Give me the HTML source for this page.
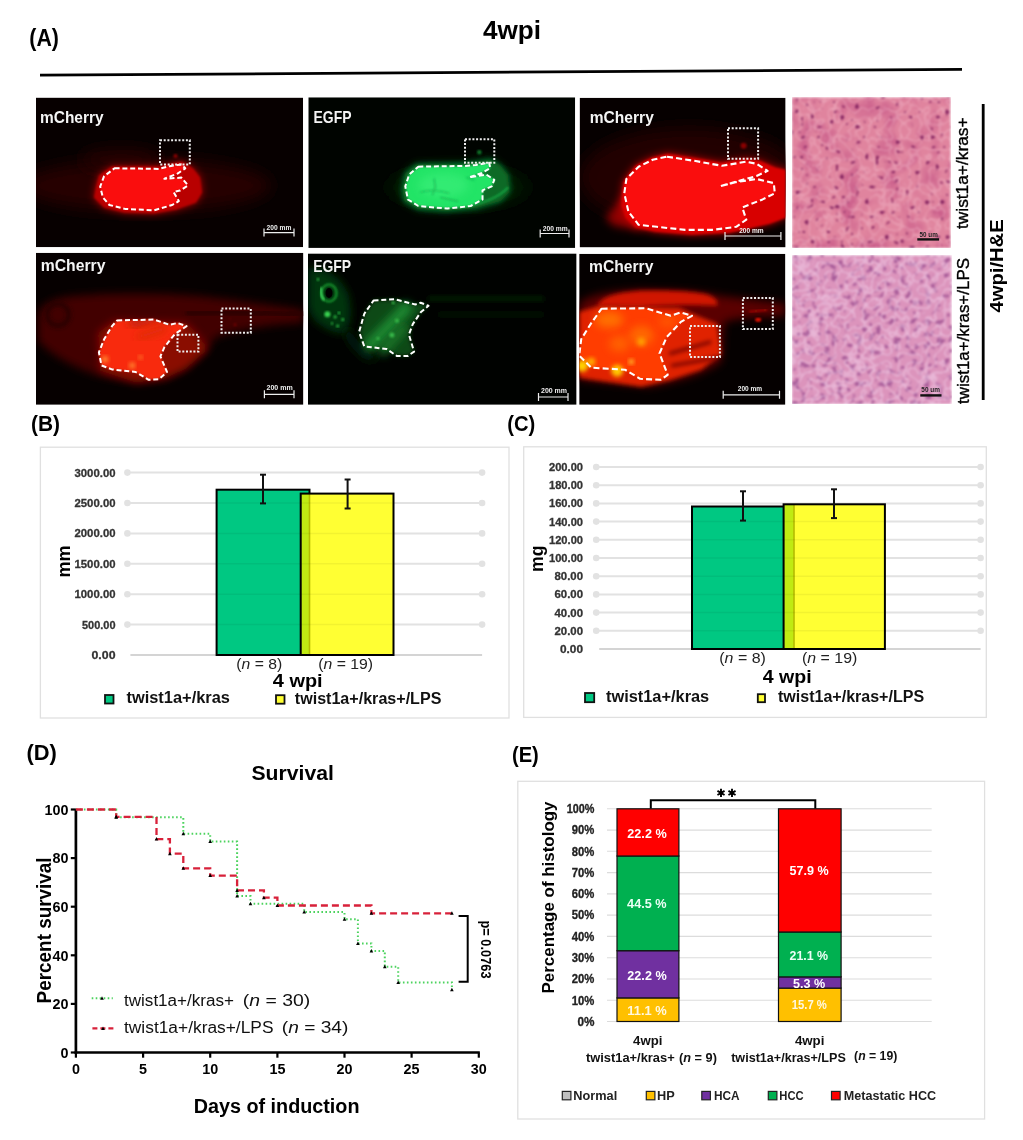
<!DOCTYPE html>
<html><head><meta charset="utf-8"><title>Figure</title>
<style>
html,body{margin:0;padding:0;background:#fff;}
svg{display:block;filter:blur(0.45px);}
text{font-family:"Liberation Sans", sans-serif;}
</style></head><body>
<svg width="1023" height="1140" viewBox="0 0 1023 1140">
<defs>
<filter id="b1" x="-20%" y="-20%" width="140%" height="140%"><feGaussianBlur stdDeviation="1"/></filter>
<filter id="b2" x="-30%" y="-30%" width="160%" height="160%"><feGaussianBlur stdDeviation="2"/></filter>
<filter id="b4" x="-50%" y="-50%" width="200%" height="200%"><feGaussianBlur stdDeviation="4"/></filter>
<filter id="b8" x="-50%" y="-50%" width="200%" height="200%"><feGaussianBlur stdDeviation="8"/></filter>
<filter id="b14" x="-50%" y="-50%" width="200%" height="200%"><feGaussianBlur stdDeviation="14"/></filter>
<filter id="he1" x="0" y="0" width="100%" height="100%" color-interpolation-filters="sRGB">
  <feTurbulence type="fractalNoise" baseFrequency="0.05" numOctaves="2" seed="9" result="m"/>
  <feColorMatrix in="m" type="matrix" values="0 0 0 0 0.8  0 0 0 0 0.38  0 0 0 0 0.55  -3 0 0 0 1.65" result="mott"/>
  <feTurbulence type="turbulence" baseFrequency="0.1" numOctaves="1" seed="2" result="t"/>
  <feColorMatrix in="t" type="matrix" values="0 0 0 0 0.96  0 0 0 0 0.74  0 0 0 0 0.8  -4 0 0 0 0.45" result="mem"/>
  <feTurbulence type="fractalNoise" baseFrequency="0.2" numOctaves="1" seed="5" result="n"/>
  <feColorMatrix in="n" type="matrix" values="0 0 0 0 0.52  0 0 0 0 0.14  0 0 0 0 0.38  -16 0 0 0 5.3" result="nuc"/>
  <feMerge result="all"><feMergeNode in="SourceGraphic"/><feMergeNode in="mott"/><feMergeNode in="mem"/><feMergeNode in="nuc"/></feMerge>
  <feGaussianBlur in="all" stdDeviation="0.9"/>
</filter>
<filter id="he2" x="0" y="0" width="100%" height="100%" color-interpolation-filters="sRGB">
  <feTurbulence type="turbulence" baseFrequency="0.11" numOctaves="1" seed="4" result="t"/>
  <feColorMatrix in="t" type="matrix" values="0 0 0 0 0.95  0 0 0 0 0.82  0 0 0 0 0.92  -4 0 0 0 0.55" result="mem"/>
  <feTurbulence type="fractalNoise" baseFrequency="0.16" numOctaves="2" seed="8" result="n"/>
  <feColorMatrix in="n" type="matrix" values="0 0 0 0 0.66  0 0 0 0 0.36  0 0 0 0 0.6  -7 0 0 0 3.1" result="nuc"/>
  <feMerge result="all"><feMergeNode in="SourceGraphic"/><feMergeNode in="nuc"/><feMergeNode in="mem"/></feMerge>
  <feGaussianBlur in="all" stdDeviation="0.9"/>
</filter>
</defs>
<rect width="1023" height="1140" fill="#fff"/>

<text x="29.3" y="45.8" font-size="23" font-weight="bold" fill="#000" text-anchor="start" textLength="29.6" lengthAdjust="spacingAndGlyphs">(A)</text>
<text x="483" y="39.3" font-size="26" font-weight="bold" fill="#000" text-anchor="start" textLength="58" lengthAdjust="spacingAndGlyphs">4wpi</text>
<line x1="40" y1="75.2" x2="962" y2="69.3" stroke="#000" stroke-width="2.8"/>
<clipPath id="cpr1a"><rect x="0" y="0" width="267.1" height="149.6"/></clipPath>
<g transform="translate(36,97.6)"><g clip-path="url(#cpr1a)">
<rect width="267.1" height="149.6" fill="#070000"/>
<ellipse cx="110" cy="88" rx="125" ry="26" fill="#250202" filter="url(#b8)"/>
<ellipse cx="85" cy="62" rx="40" ry="10" fill="#250202" filter="url(#b8)"/>
<polygon points="60.0,90.0 63.0,78.0 76.0,69.0 123.0,69.0 146.0,64.0 157.0,71.0 164.0,80.0 166.0,95.0 160.0,105.0 140.0,112.0 118.0,116.0 88.0,115.0 68.0,110.0 58.0,100.0" fill="#b00000" filter="url(#b4)"/>
<polygon points="60.0,90.0 63.0,78.0 76.0,69.0 123.0,69.0 146.0,64.0 157.0,71.0 164.0,80.0 166.0,95.0 160.0,105.0 140.0,112.0 118.0,116.0 88.0,115.0 68.0,110.0 58.0,100.0" fill="#b80000" filter="url(#b1)"/>
<polygon points="78.6,70.7 123.0,71.3 133.6,68.6 145.4,66.8 149.3,70.7 141.5,76.0 128.4,81.2 145.4,80.0 152.0,87.8 144.0,93.0 137.5,94.3 142.8,103.5 136.2,107.4 117.9,112.7 89.0,111.3 73.4,107.4 66.8,99.6 64.2,89.0 68.1,78.6" fill="#fa1010" filter="url(#b1)"/>
<circle cx="139.5" cy="58.5" r="2" fill="#900000" filter="url(#b1)"/>
<polygon points="78.6,70.7 123.0,71.3 133.6,68.6 145.4,66.8 149.3,70.7 141.5,76.0 128.4,81.2 145.4,80.0 152.0,87.8 144.0,93.0 137.5,94.3 142.8,103.5 136.2,107.4 117.9,112.7 89.0,111.3 73.4,107.4 66.8,99.6 64.2,89.0 68.1,78.6" fill="none" stroke="#fff" stroke-width="2" stroke-dasharray="5,2.8" stroke-linejoin="round"/>
<rect x="124" y="42.7" width="29.80000000000001" height="24.099999999999994" fill="none" stroke="#eee" stroke-width="2" stroke-dasharray="2,1.7"/>
<text x="4" y="25.4" font-size="17" font-weight="bold" fill="#f4f4f4" text-anchor="start" textLength="63.6" lengthAdjust="spacingAndGlyphs">mCherry</text>
<line x1="228" y1="135" x2="258" y2="135" stroke="#eee" stroke-width="1.2"/>
<line x1="228" y1="131" x2="228" y2="139" stroke="#eee" stroke-width="1.2"/>
<line x1="258" y1="131" x2="258" y2="139" stroke="#eee" stroke-width="1.2"/>
<text x="230.5" y="132.5" font-size="7" font-weight="bold" fill="#eee" text-anchor="start" textLength="24.900000000000006" lengthAdjust="spacingAndGlyphs">200 mm</text>
</g></g>
<clipPath id="cpr1b"><rect x="0" y="0" width="266.9" height="150.6"/></clipPath>
<g transform="translate(308.3,97.3)"><g clip-path="url(#cpr1b)">
<rect width="266.9" height="150.6" fill="#000400"/>
<ellipse cx="150" cy="90" rx="70" ry="20" fill="#011a06" filter="url(#b8)"/>
<polygon points="94.0,92.0 97.0,76.0 108.0,67.0 157.0,66.0 182.0,62.0 192.0,68.0 200.0,78.0 201.0,95.0 192.0,104.0 168.0,111.0 138.0,114.0 110.0,112.0 96.0,104.0" fill="#085a20" filter="url(#b4)"/>
<polygon points="94.0,92.0 97.0,76.0 108.0,67.0 157.0,66.0 182.0,62.0 192.0,68.0 200.0,78.0 201.0,95.0 192.0,104.0 168.0,111.0 138.0,114.0 110.0,112.0 96.0,104.0" fill="#0a6a28" filter="url(#b2)"/>
<path d="M150,110 Q185,106 200,90" fill="none" stroke="#18a040" stroke-width="2" filter="url(#b1)"/>
<polygon points="110.0,69.4 157.2,68.6 167.7,67.6 180.8,65.5 182.0,70.7 173.0,76.0 161.0,80.0 178.0,77.3 186.0,82.5 183.4,89.0 174.2,93.0 174.2,102.2 162.4,108.7 138.9,111.3 110.0,108.7 99.6,102.2 97.0,89.0 100.9,77.3" fill="#22e466" filter="url(#b1)"/>
<ellipse cx="135" cy="88" rx="25" ry="12" fill="#3cf07c" opacity="0.6" filter="url(#b4)"/>
<path d="M125.8,81 L127,90 L124,98 M112,95 Q125,91 141,96 M158,80 L166,83 M132,100 L150,104" fill="none" stroke="#14a84c" stroke-width="1.2" opacity="0.8" filter="url(#b1)"/>
<circle cx="171" cy="55" r="2.2" fill="#0c7a2c" filter="url(#b1)"/>
<polygon points="110.0,69.4 157.2,68.6 167.7,67.6 180.8,65.5 182.0,70.7 173.0,76.0 161.0,80.0 178.0,77.3 186.0,82.5 183.4,89.0 174.2,93.0 174.2,102.2 162.4,108.7 138.9,111.3 110.0,108.7 99.6,102.2 97.0,89.0 100.9,77.3" fill="none" stroke="#fff" stroke-width="2" stroke-dasharray="5,2.8" stroke-linejoin="round"/>
<rect x="156.7" y="41.9" width="29.30000000000001" height="23.6" fill="none" stroke="#eee" stroke-width="2" stroke-dasharray="2,1.7"/>
<text x="5.2" y="25.4" font-size="17" font-weight="bold" fill="#f4f4f4" text-anchor="start" textLength="38" lengthAdjust="spacingAndGlyphs">EGFP</text>
<line x1="231.9" y1="136.2" x2="260.7" y2="136.2" stroke="#eee" stroke-width="1.2"/>
<line x1="231.9" y1="132.2" x2="231.9" y2="140.2" stroke="#eee" stroke-width="1.2"/>
<line x1="260.7" y1="132.2" x2="260.7" y2="140.2" stroke="#eee" stroke-width="1.2"/>
<text x="234.5" y="133.5" font-size="7" font-weight="bold" fill="#eee" text-anchor="start" textLength="24.899999999999977" lengthAdjust="spacingAndGlyphs">200 mm</text>
</g></g>
<clipPath id="cpr1c"><rect x="0" y="0" width="206" height="149.7"/></clipPath>
<g transform="translate(579.6,97.7)"><g clip-path="url(#cpr1c)">
<rect width="206" height="149.7" fill="#060000"/>
<ellipse cx="110" cy="80" rx="110" ry="50" fill="#200000" filter="url(#b8)"/>
<polygon points="26,120 44,98 58,112 60,132 34,128" fill="#900000" filter="url(#b4)"/>
<polygon points="42.0,108.0 42.0,100.0 44.0,84.0 56.0,68.0 72.0,60.0 88.0,56.0 114.0,60.0 142.0,65.0 167.0,61.0 180.0,63.0 196.0,70.0 206.0,72.0 206.0,120.0 190.0,126.0 168.0,131.0 150.0,135.0 112.0,137.0 76.0,134.0 56.0,130.0 46.0,120.0" fill="#c80000" filter="url(#b4)"/>
<polygon points="42.0,108.0 42.0,100.0 44.0,84.0 56.0,68.0 72.0,60.0 88.0,56.0 114.0,60.0 142.0,65.0 167.0,61.0 180.0,63.0 196.0,70.0 206.0,72.0 206.0,120.0 190.0,126.0 168.0,131.0 150.0,135.0 112.0,137.0 76.0,134.0 56.0,130.0 46.0,120.0" fill="#d80000" filter="url(#b1)"/>
<polygon points="87.4,59.0 113.9,63.0 142.3,68.1 166.7,64.0 176.9,66.1 188.0,73.2 176.9,78.3 140.3,88.5 156.6,84.4 176.9,81.3 194.2,85.4 195.2,95.6 183.0,101.7 162.7,109.8 166.7,122.0 156.6,129.1 132.2,132.2 105.7,132.2 77.3,129.1 59.0,127.1 48.8,113.9 44.7,95.6 46.8,81.3 59.0,69.1 73.2,62.0" fill="#fa0e0e" filter="url(#b1)"/>
<circle cx="164" cy="48" r="3" fill="#8a0000" filter="url(#b1)"/>
<polygon points="87.4,59.0 113.9,63.0 142.3,68.1 166.7,64.0 176.9,66.1 188.0,73.2 176.9,78.3 140.3,88.5 156.6,84.4 176.9,81.3 194.2,85.4 195.2,95.6 183.0,101.7 162.7,109.8 166.7,122.0 156.6,129.1 132.2,132.2 105.7,132.2 77.3,129.1 59.0,127.1 48.8,113.9 44.7,95.6 46.8,81.3 59.0,69.1 73.2,62.0" fill="none" stroke="#fff" stroke-width="2.1" stroke-dasharray="6,3.2" stroke-linejoin="round"/>
<rect x="148.4" y="30.5" width="30.099999999999994" height="30.5" fill="none" stroke="#eee" stroke-width="2" stroke-dasharray="2,1.7"/>
<text x="10.2" y="25.8" font-size="17" font-weight="bold" fill="#f4f4f4" text-anchor="start" textLength="64" lengthAdjust="spacingAndGlyphs">mCherry</text>
<line x1="145.4" y1="138.3" x2="201.3" y2="138.3" stroke="#eee" stroke-width="1.2"/>
<line x1="145.4" y1="134.3" x2="145.4" y2="142.3" stroke="#eee" stroke-width="1.2"/>
<line x1="201.3" y1="134.3" x2="201.3" y2="142.3" stroke="#eee" stroke-width="1.2"/>
<text x="159.6" y="135" font-size="7" font-weight="bold" fill="#eee" text-anchor="start" textLength="24.400000000000006" lengthAdjust="spacingAndGlyphs">200 mm</text>
</g></g>
<rect x="792" y="97.5" width="158.5" height="150.5" fill="#e0849e" filter="url(#he1)"/>
<rect x="917.3" y="238.2" width="21.8" height="2.4" fill="#111"/>
<text x="919.6" y="236.7" font-size="7" font-weight="bold" fill="#222" text-anchor="start" textLength="18.2" lengthAdjust="spacingAndGlyphs">50 um</text>
<clipPath id="cpr2a"><rect x="0" y="0" width="267.4" height="152"/></clipPath>
<g transform="translate(36,252.8)"><g clip-path="url(#cpr2a)">
<rect width="267.4" height="152" fill="#060000"/>
<path d="M2,62 Q6,46 40,43 Q100,38 170,44 Q220,50 267,57 L267,70 Q220,72 180,84 Q165,108 132,124 Q100,132 60,122 Q20,108 2,88 Z" fill="#420605" filter="url(#b4)"/>
<path d="M150,60 Q200,58 267,62" fill="none" stroke="#2a0303" stroke-width="6" filter="url(#b2)"/>
<circle cx="22" cy="62" r="11" fill="none" stroke="#260202" stroke-width="4" filter="url(#b2)"/>
<polygon points="62.0,80.0 78.0,68.0 150.0,70.0 160.0,80.0 172.0,96.0 150.0,116.0 128.0,126.0 100.0,130.0 64.0,118.0" fill="#8a0a04" filter="url(#b4)"/>
<polygon points="81.2,67.6 117.9,66.8 133.6,72.0 141.5,70.2 150.6,73.4 138.9,81.2 128.4,94.3 124.4,103.5 131.0,119.2 123.1,126.3 112.7,127.0 99.6,119.2 76.0,116.6 65.5,112.7 62.9,99.6 68.1,86.5 76.0,73.4" fill="#f82c10" filter="url(#b1)"/>
<clipPath id="cpb2a"><polygon points="81.2,67.6 117.9,66.8 133.6,72.0 141.5,70.2 150.6,73.4 138.9,81.2 128.4,94.3 124.4,103.5 131.0,119.2 123.1,126.3 112.7,127.0 99.6,119.2 76.0,116.6 65.5,112.7 62.9,99.6 68.1,86.5 76.0,73.4"/></clipPath><g clip-path="url(#cpb2a)">
<path d="M98,70 L140,58" stroke="#c02008" stroke-width="10" stroke-linecap="round" filter="url(#b4)"/>
<path d="M104,84 L128,76" stroke="#d82a0c" stroke-width="6" stroke-linecap="round" filter="url(#b4)"/>
<circle cx="69" cy="106.5" r="3.2" fill="#ff8a30" filter="url(#b2)"/>
<circle cx="96.2" cy="112.8" r="3" fill="#ff8a30" filter="url(#b2)"/>
<circle cx="104.6" cy="104.4" r="2" fill="#ff8a30" filter="url(#b2)"/>
</g>
<polygon points="81.2,67.6 117.9,66.8 133.6,72.0 141.5,70.2 150.6,73.4 138.9,81.2 128.4,94.3 124.4,103.5 131.0,119.2 123.1,126.3 112.7,127.0 99.6,119.2 76.0,116.6 65.5,112.7 62.9,99.6 68.1,86.5 76.0,73.4" fill="none" stroke="#fff" stroke-width="2" stroke-dasharray="5,2.8" stroke-linejoin="round"/>
<rect x="185.5" y="55.8" width="29.30000000000001" height="24.10000000000001" fill="none" stroke="#eee" stroke-width="2" stroke-dasharray="2,1.7"/>
<rect x="141.5" y="82" width="20.900000000000006" height="16.799999999999997" fill="none" stroke="#eee" stroke-width="2" stroke-dasharray="2,1.7"/>
<circle cx="199" cy="72" r="1.5" fill="#700000" filter="url(#b1)"/>
<circle cx="194" cy="66" r="1.2" fill="#500000" filter="url(#b1)"/>
<text x="4.7" y="18.3" font-size="17" font-weight="bold" fill="#f4f4f4" text-anchor="start" textLength="64.7" lengthAdjust="spacingAndGlyphs">mCherry</text>
<line x1="228.4" y1="141.5" x2="258" y2="141.5" stroke="#eee" stroke-width="1.2"/>
<line x1="228.4" y1="137.5" x2="228.4" y2="145.5" stroke="#eee" stroke-width="1.2"/>
<line x1="258" y1="137.5" x2="258" y2="145.5" stroke="#eee" stroke-width="1.2"/>
<text x="230.5" y="137.5" font-size="7" font-weight="bold" fill="#eee" text-anchor="start" textLength="26.19999999999999" lengthAdjust="spacingAndGlyphs">200 mm</text>
</g></g>
<clipPath id="cpr2b"><rect x="0" y="0" width="268.6" height="151.4"/></clipPath>
<g transform="translate(308,253.4)"><g clip-path="url(#cpr2b)">
<rect width="268.6" height="151.4" fill="#000200"/>
<path d="M0,14 Q28,14 40,40 Q46,62 38,80 Q22,80 8,68 Q0,58 0,50 Z" fill="#053510" filter="url(#b4)"/>
<path d="M40,72 Q55,100 75,105 L60,108 Q45,100 36,82 Z" fill="#031c08" filter="url(#b4)"/>
<ellipse cx="21" cy="39.6" rx="7.5" ry="8.5" fill="none" stroke="#168a2a" stroke-width="2.6" filter="url(#b1)"/>
<ellipse cx="21" cy="39.6" rx="3.5" ry="5" fill="#000"/>
<path d="M13,34 Q12,42 16,47" fill="none" stroke="#40e060" stroke-width="2" filter="url(#b1)"/>
<circle cx="19.4" cy="60.9" r="3" fill="#38d050" filter="url(#b1)"/>
<circle cx="27.1" cy="63.5" r="1.6" fill="#28b040" filter="url(#b1)"/>
<circle cx="31" cy="59.6" r="1.4" fill="#28b040" filter="url(#b1)"/>
<circle cx="34.8" cy="66" r="1.5" fill="#28b040" filter="url(#b1)"/>
<circle cx="29.7" cy="72.5" r="1.5" fill="#28b040" filter="url(#b1)"/>
<circle cx="10" cy="26" r="1.3" fill="#28b040" filter="url(#b1)"/>
<circle cx="24" cy="70" r="1.2" fill="#28b040" filter="url(#b1)"/>
<rect x="120" y="43" width="116" height="5" fill="#021c06" filter="url(#b2)"/>
<rect x="130" y="59" width="106" height="4" fill="#021604" filter="url(#b2)"/>
<polygon points="65.5,47.2 86.5,45.8 107.4,51.1 112.7,49.3 120.5,52.4 112.7,58.9 104.8,70.7 100.9,81.2 106.1,98.2 99.6,102.7 89.1,102.7 78.6,95.6 56.3,93.0 51.1,78.6 56.3,60.3" fill="#0a4a16" filter="url(#b2)"/>
<path d="M62,92 L98,55" stroke="#1f8a30" stroke-width="12" stroke-linecap="round" filter="url(#b4)"/>
<path d="M75,98 L95,75" stroke="#1a7a2a" stroke-width="8" stroke-linecap="round" filter="url(#b4)"/>
<circle cx="83.9" cy="81.5" r="2.5" fill="#38b848" filter="url(#b1)"/>
<circle cx="89" cy="67.3" r="2" fill="#38b848" filter="url(#b1)"/>
<circle cx="85.2" cy="49.3" r="1.5" fill="#38b848" filter="url(#b1)"/>
<circle cx="70" cy="85" r="1.5" fill="#38b848" filter="url(#b1)"/>
<polygon points="65.5,47.2 86.5,45.8 107.4,51.1 112.7,49.3 120.5,52.4 112.7,58.9 104.8,70.7 100.9,81.2 106.1,98.2 99.6,102.7 89.1,102.7 78.6,95.6 56.3,93.0 51.1,78.6 56.3,60.3" fill="none" stroke="#fff" stroke-width="2" stroke-dasharray="5,2.8" stroke-linejoin="round"/>
<text x="5.2" y="18.9" font-size="17" font-weight="bold" fill="#f4f4f4" text-anchor="start" textLength="38" lengthAdjust="spacingAndGlyphs">EGFP</text>
<line x1="230.5" y1="143.6" x2="260" y2="143.6" stroke="#eee" stroke-width="1.2"/>
<line x1="230.5" y1="139.6" x2="230.5" y2="147.6" stroke="#eee" stroke-width="1.2"/>
<line x1="260" y1="139.6" x2="260" y2="147.6" stroke="#eee" stroke-width="1.2"/>
<text x="233" y="139.5" font-size="7" font-weight="bold" fill="#eee" text-anchor="start" textLength="26" lengthAdjust="spacingAndGlyphs">200 mm</text>
</g></g>
<clipPath id="cpr2c"><rect x="0" y="0" width="206.2" height="151"/></clipPath>
<g transform="translate(579.2,253.8)"><g clip-path="url(#cpr2c)">
<rect width="206.2" height="151" fill="#050000"/>
<path d="M0,50 Q10,38 60,36 Q110,36 140,42 Q175,46 206,50 L206,62 Q170,62 145,68 L142,108 Q120,124 70,133 L0,126 Z" fill="#5a0600" filter="url(#b4)"/>
<path d="M18,52 Q22,40 60,37 Q100,36 125,40 Q140,44 138,52 Q100,50 60,53 Z" fill="#d01800" filter="url(#b2)"/>
<polygon points="0.0,58.0 20.0,52.0 100.0,54.0 118.0,62.0 138.0,70.0 142.0,100.0 122.0,116.0 92.0,126.0 62.0,133.0 0.0,124.0" fill="#e02400" filter="url(#b2)"/>
<polygon points="22.4,54.9 67.1,54.5 91.5,62.0 101.7,58.6 112.8,62.0 101.7,68.1 87.4,83.4 80.3,99.6 88.5,121.0 81.3,126.0 61.0,125.0 45.8,115.9 12.2,113.9 0.0,101.7 2.0,85.4 12.2,69.1" fill="#ff3c00" filter="url(#b1)"/>
<clipPath id="cpb2c"><polygon points="0.0,50.0 120.0,50.0 145.0,70.0 145.0,110.0 100.0,135.0 0.0,135.0"/></clipPath><g clip-path="url(#cpb2c)">
<ellipse cx="30" cy="66" rx="14" ry="8" fill="#ff7000" filter="url(#b4)"/>
<ellipse cx="62" cy="82" rx="12" ry="10" fill="#ff6800" filter="url(#b4)"/>
<ellipse cx="40" cy="90" rx="10" ry="8" fill="#ff6000" filter="url(#b4)"/>
<ellipse cx="88" cy="68" rx="8" ry="5" fill="#ff5800" filter="url(#b4)"/>
<circle cx="3" cy="112" r="6" fill="#ffd000" filter="url(#b2)"/>
<circle cx="38" cy="117" r="6" fill="#ffc800" filter="url(#b2)"/>
<circle cx="52" cy="108" r="2.5" fill="#ffd030" filter="url(#b2)"/>
<circle cx="12" cy="108" r="4" fill="#ffb000" filter="url(#b2)"/>
<circle cx="62" cy="88" r="4" fill="#ffa000" filter="url(#b2)"/>
<path d="M90,100 L132,88 M92,112 L138,104" stroke="#700800" stroke-width="3" filter="url(#b2)"/>
</g>
<polygon points="22.4,54.9 67.1,54.5 91.5,62.0 101.7,58.6 112.8,62.0 101.7,68.1 87.4,83.4 80.3,99.6 88.5,121.0 81.3,126.0 61.0,125.0 45.8,115.9 12.2,113.9 0.0,101.7 2.0,85.4 12.2,69.1" fill="none" stroke="#fff" stroke-width="2.1" stroke-dasharray="6,3.2" stroke-linejoin="round"/>
<rect x="110.8" y="72.2" width="29.89999999999999" height="31.099999999999994" fill="none" stroke="#eee" stroke-width="2" stroke-dasharray="2,1.7"/>
<rect x="163.7" y="44.3" width="29.900000000000006" height="30.900000000000006" fill="none" stroke="#eee" stroke-width="2" stroke-dasharray="2,1.7"/>
<ellipse cx="179" cy="66" rx="3" ry="2" fill="#e01000" filter="url(#b1)"/>
<path d="M170,58 L188,56" stroke="#a00800" stroke-width="2" filter="url(#b1)"/>
<text x="9.8" y="18.7" font-size="17" font-weight="bold" fill="#f4f4f4" text-anchor="start" textLength="64.4" lengthAdjust="spacingAndGlyphs">mCherry</text>
<line x1="144" y1="141" x2="200.3" y2="141" stroke="#eee" stroke-width="1.2"/>
<line x1="144" y1="137" x2="144" y2="145" stroke="#eee" stroke-width="1.2"/>
<line x1="200.3" y1="137" x2="200.3" y2="145" stroke="#eee" stroke-width="1.2"/>
<text x="158.6" y="137.6" font-size="7" font-weight="bold" fill="#eee" text-anchor="start" textLength="24.400000000000006" lengthAdjust="spacingAndGlyphs">200 mm</text>
</g></g>
<rect x="792" y="255.5" width="159.3" height="148.5" fill="#dc94bc" filter="url(#he2)"/>
<rect x="920.3" y="394.2" width="21.2" height="2.4" fill="#111"/>
<text x="921.3" y="392.4" font-size="7" font-weight="bold" fill="#222" text-anchor="start" textLength="18.6" lengthAdjust="spacingAndGlyphs">50 um</text>
<text x="0" y="0" font-size="16" font-weight="normal" fill="#000" text-anchor="start" textLength="111.5" lengthAdjust="spacingAndGlyphs" stroke="#000" stroke-width="0.35" transform="translate(968,229) rotate(-90)">twist1a+/kras+</text>
<text x="0" y="0" font-size="16" font-weight="normal" fill="#000" text-anchor="start" textLength="146" lengthAdjust="spacingAndGlyphs" stroke="#000" stroke-width="0.35" transform="translate(968.5,404) rotate(-90)">twist1a+/kras+/LPS</text>
<line x1="983.2" y1="104" x2="983.2" y2="400" stroke="#000" stroke-width="2.8"/>
<text x="0" y="0" font-size="18.5" font-weight="bold" fill="#000" text-anchor="start" textLength="93" lengthAdjust="spacingAndGlyphs" transform="translate(1003,312.4) rotate(-90)">4wpi/H&amp;E</text>
<text x="31" y="431" font-size="22.5" font-weight="bold" fill="#000" text-anchor="start" textLength="29" lengthAdjust="spacingAndGlyphs">(B)</text>
<text x="507.3" y="431.4" font-size="22.5" font-weight="bold" fill="#000" text-anchor="start" textLength="28" lengthAdjust="spacingAndGlyphs">(C)</text>
<text x="26.5" y="760.4" font-size="22.5" font-weight="bold" fill="#000" text-anchor="start" textLength="30.4" lengthAdjust="spacingAndGlyphs">(D)</text>
<text x="512" y="761.9" font-size="22.5" font-weight="bold" fill="#000" text-anchor="start" textLength="26.8" lengthAdjust="spacingAndGlyphs">(E)</text>
<rect x="40.4" y="447.2" width="468.6" height="270.8" fill="#fff" stroke="#e0e0e0" stroke-width="1.3"/>
<line x1="127.4" y1="624.6" x2="482.1" y2="624.6" stroke="#e2e2e2" stroke-width="2"/>
<circle cx="127.4" cy="624.6" r="3.3" fill="#e2e2e2"/>
<circle cx="482.1" cy="624.6" r="3.3" fill="#e2e2e2"/>
<line x1="127.4" y1="594.2" x2="482.1" y2="594.2" stroke="#e2e2e2" stroke-width="2"/>
<circle cx="127.4" cy="594.2" r="3.3" fill="#e2e2e2"/>
<circle cx="482.1" cy="594.2" r="3.3" fill="#e2e2e2"/>
<line x1="127.4" y1="563.8" x2="482.1" y2="563.8" stroke="#e2e2e2" stroke-width="2"/>
<circle cx="127.4" cy="563.8" r="3.3" fill="#e2e2e2"/>
<circle cx="482.1" cy="563.8" r="3.3" fill="#e2e2e2"/>
<line x1="127.4" y1="533.4" x2="482.1" y2="533.4" stroke="#e2e2e2" stroke-width="2"/>
<circle cx="127.4" cy="533.4" r="3.3" fill="#e2e2e2"/>
<circle cx="482.1" cy="533.4" r="3.3" fill="#e2e2e2"/>
<line x1="127.4" y1="503.0" x2="482.1" y2="503.0" stroke="#e2e2e2" stroke-width="2"/>
<circle cx="127.4" cy="503.0" r="3.3" fill="#e2e2e2"/>
<circle cx="482.1" cy="503.0" r="3.3" fill="#e2e2e2"/>
<line x1="127.4" y1="472.6" x2="482.1" y2="472.6" stroke="#e2e2e2" stroke-width="2"/>
<circle cx="127.4" cy="472.6" r="3.3" fill="#e2e2e2"/>
<circle cx="482.1" cy="472.6" r="3.3" fill="#e2e2e2"/>
<line x1="130.4" y1="655" x2="482.1" y2="655" stroke="#c6c6c6" stroke-width="1.5"/>
<text x="115.5" y="659.0" font-size="11.3" font-weight="bold" fill="#333" text-anchor="end" textLength="24" lengthAdjust="spacingAndGlyphs" stroke="#333" stroke-width="0.3">0.00</text>
<text x="115.5" y="628.6" font-size="11.3" font-weight="bold" fill="#333" text-anchor="end" textLength="33.5" lengthAdjust="spacingAndGlyphs" stroke="#333" stroke-width="0.3">500.00</text>
<text x="115.5" y="598.2" font-size="11.3" font-weight="bold" fill="#333" text-anchor="end" textLength="41" lengthAdjust="spacingAndGlyphs" stroke="#333" stroke-width="0.3">1000.00</text>
<text x="115.5" y="567.8" font-size="11.3" font-weight="bold" fill="#333" text-anchor="end" textLength="41" lengthAdjust="spacingAndGlyphs" stroke="#333" stroke-width="0.3">1500.00</text>
<text x="115.5" y="537.4" font-size="11.3" font-weight="bold" fill="#333" text-anchor="end" textLength="41" lengthAdjust="spacingAndGlyphs" stroke="#333" stroke-width="0.3">2000.00</text>
<text x="115.5" y="507.0" font-size="11.3" font-weight="bold" fill="#333" text-anchor="end" textLength="41" lengthAdjust="spacingAndGlyphs" stroke="#333" stroke-width="0.3">2500.00</text>
<text x="115.5" y="476.6" font-size="11.3" font-weight="bold" fill="#333" text-anchor="end" textLength="41" lengthAdjust="spacingAndGlyphs" stroke="#333" stroke-width="0.3">3000.00</text>
<rect x="216.6" y="489.7" width="92.9" height="165.3" fill="#00c882" stroke="#000" stroke-width="2"/>
<rect x="300.7" y="493.6" width="8.800000000000011" height="161.39999999999998" fill="#c0ea12"/>
<rect x="309.5" y="493.6" width="84.0" height="161.39999999999998" fill="#ffff33"/>
<line x1="309.5" y1="493.6" x2="309.5" y2="655" stroke="#b4bc00" stroke-width="1.6"/>
<rect x="300.7" y="493.6" width="92.80000000000001" height="161.39999999999998" fill="none" stroke="#000" stroke-width="2"/>
<line x1="218" y1="624.6" x2="392.5" y2="624.6" stroke="#000" stroke-opacity="0.05" stroke-width="1.5"/>
<line x1="218" y1="594.2" x2="392.5" y2="594.2" stroke="#000" stroke-opacity="0.05" stroke-width="1.5"/>
<line x1="218" y1="563.8" x2="392.5" y2="563.8" stroke="#000" stroke-opacity="0.05" stroke-width="1.5"/>
<line x1="218" y1="533.4" x2="392.5" y2="533.4" stroke="#000" stroke-opacity="0.05" stroke-width="1.5"/>
<line x1="218" y1="503.0" x2="392.5" y2="503.0" stroke="#000" stroke-opacity="0.05" stroke-width="1.5"/>
<line x1="263" y1="474.7" x2="263" y2="503.4" stroke="#111" stroke-width="2"/>
<line x1="260" y1="474.7" x2="266" y2="474.7" stroke="#111" stroke-width="2"/>
<line x1="260" y1="503.4" x2="266" y2="503.4" stroke="#111" stroke-width="2"/>
<line x1="347.6" y1="479.5" x2="347.6" y2="508.5" stroke="#111" stroke-width="2"/>
<line x1="344.6" y1="479.5" x2="350.6" y2="479.5" stroke="#111" stroke-width="2"/>
<line x1="344.6" y1="508.5" x2="350.6" y2="508.5" stroke="#111" stroke-width="2"/>
<text x="0" y="0" font-size="19" font-weight="bold" fill="#000" text-anchor="start" textLength="32" lengthAdjust="spacingAndGlyphs" transform="translate(70.3,577.5) rotate(-90)">mm</text>
<text x="236.3" y="669.3" font-size="15" fill="#222" textLength="45.89999999999998" lengthAdjust="spacingAndGlyphs">(<tspan font-style="italic">n</tspan> = 8)</text>
<text x="318.2" y="669.3" font-size="15" fill="#222" textLength="54.900000000000034" lengthAdjust="spacingAndGlyphs">(<tspan font-style="italic">n</tspan> = 19)</text>
<text x="272.8" y="686.6" font-size="18" font-weight="bold" fill="#000" text-anchor="start" textLength="49.8" lengthAdjust="spacingAndGlyphs">4 wpi</text>
<rect x="105" y="695" width="8.5" height="8.5" fill="#00c882" stroke="#111" stroke-width="1.8"/>
<text x="126.5" y="702.5" font-size="16" font-weight="bold" fill="#111" text-anchor="start" textLength="103.4" lengthAdjust="spacingAndGlyphs">twist1a+/kras</text>
<rect x="276" y="695.2" width="8.5" height="8.5" fill="#ffff33" stroke="#111" stroke-width="1.8"/>
<text x="294.8" y="703.5" font-size="16" font-weight="bold" fill="#111" text-anchor="start" textLength="146.6" lengthAdjust="spacingAndGlyphs">twist1a+/kras+/LPS</text>
<rect x="523.7" y="446.8" width="462.5999999999999" height="270.59999999999997" fill="#fff" stroke="#e0e0e0" stroke-width="1.3"/>
<line x1="596.2" y1="630.8" x2="980.6" y2="630.8" stroke="#e2e2e2" stroke-width="2"/>
<circle cx="596.2" cy="630.8" r="3.3" fill="#e2e2e2"/>
<circle cx="980.6" cy="630.8" r="3.3" fill="#e2e2e2"/>
<line x1="596.2" y1="612.6" x2="980.6" y2="612.6" stroke="#e2e2e2" stroke-width="2"/>
<circle cx="596.2" cy="612.6" r="3.3" fill="#e2e2e2"/>
<circle cx="980.6" cy="612.6" r="3.3" fill="#e2e2e2"/>
<line x1="596.2" y1="594.4" x2="980.6" y2="594.4" stroke="#e2e2e2" stroke-width="2"/>
<circle cx="596.2" cy="594.4" r="3.3" fill="#e2e2e2"/>
<circle cx="980.6" cy="594.4" r="3.3" fill="#e2e2e2"/>
<line x1="596.2" y1="576.2" x2="980.6" y2="576.2" stroke="#e2e2e2" stroke-width="2"/>
<circle cx="596.2" cy="576.2" r="3.3" fill="#e2e2e2"/>
<circle cx="980.6" cy="576.2" r="3.3" fill="#e2e2e2"/>
<line x1="596.2" y1="558.0" x2="980.6" y2="558.0" stroke="#e2e2e2" stroke-width="2"/>
<circle cx="596.2" cy="558.0" r="3.3" fill="#e2e2e2"/>
<circle cx="980.6" cy="558.0" r="3.3" fill="#e2e2e2"/>
<line x1="596.2" y1="539.8" x2="980.6" y2="539.8" stroke="#e2e2e2" stroke-width="2"/>
<circle cx="596.2" cy="539.8" r="3.3" fill="#e2e2e2"/>
<circle cx="980.6" cy="539.8" r="3.3" fill="#e2e2e2"/>
<line x1="596.2" y1="521.6" x2="980.6" y2="521.6" stroke="#e2e2e2" stroke-width="2"/>
<circle cx="596.2" cy="521.6" r="3.3" fill="#e2e2e2"/>
<circle cx="980.6" cy="521.6" r="3.3" fill="#e2e2e2"/>
<line x1="596.2" y1="503.4" x2="980.6" y2="503.4" stroke="#e2e2e2" stroke-width="2"/>
<circle cx="596.2" cy="503.4" r="3.3" fill="#e2e2e2"/>
<circle cx="980.6" cy="503.4" r="3.3" fill="#e2e2e2"/>
<line x1="596.2" y1="485.2" x2="980.6" y2="485.2" stroke="#e2e2e2" stroke-width="2"/>
<circle cx="596.2" cy="485.2" r="3.3" fill="#e2e2e2"/>
<circle cx="980.6" cy="485.2" r="3.3" fill="#e2e2e2"/>
<line x1="596.2" y1="467.0" x2="980.6" y2="467.0" stroke="#e2e2e2" stroke-width="2"/>
<circle cx="596.2" cy="467.0" r="3.3" fill="#e2e2e2"/>
<circle cx="980.6" cy="467.0" r="3.3" fill="#e2e2e2"/>
<line x1="599.2" y1="649" x2="980.6" y2="649" stroke="#c6c6c6" stroke-width="1.5"/>
<text x="583" y="653.0" font-size="11.1" font-weight="bold" fill="#333" text-anchor="end" textLength="23" lengthAdjust="spacingAndGlyphs" stroke="#333" stroke-width="0.3">0.00</text>
<text x="583" y="634.8" font-size="11.1" font-weight="bold" fill="#333" text-anchor="end" textLength="28.5" lengthAdjust="spacingAndGlyphs" stroke="#333" stroke-width="0.3">20.00</text>
<text x="583" y="616.6" font-size="11.1" font-weight="bold" fill="#333" text-anchor="end" textLength="28.5" lengthAdjust="spacingAndGlyphs" stroke="#333" stroke-width="0.3">40.00</text>
<text x="583" y="598.4" font-size="11.1" font-weight="bold" fill="#333" text-anchor="end" textLength="28.5" lengthAdjust="spacingAndGlyphs" stroke="#333" stroke-width="0.3">60.00</text>
<text x="583" y="580.2" font-size="11.1" font-weight="bold" fill="#333" text-anchor="end" textLength="28.5" lengthAdjust="spacingAndGlyphs" stroke="#333" stroke-width="0.3">80.00</text>
<text x="583" y="562.0" font-size="11.1" font-weight="bold" fill="#333" text-anchor="end" textLength="34" lengthAdjust="spacingAndGlyphs" stroke="#333" stroke-width="0.3">100.00</text>
<text x="583" y="543.8" font-size="11.1" font-weight="bold" fill="#333" text-anchor="end" textLength="34" lengthAdjust="spacingAndGlyphs" stroke="#333" stroke-width="0.3">120.00</text>
<text x="583" y="525.6" font-size="11.1" font-weight="bold" fill="#333" text-anchor="end" textLength="34" lengthAdjust="spacingAndGlyphs" stroke="#333" stroke-width="0.3">140.00</text>
<text x="583" y="507.4" font-size="11.1" font-weight="bold" fill="#333" text-anchor="end" textLength="34" lengthAdjust="spacingAndGlyphs" stroke="#333" stroke-width="0.3">160.00</text>
<text x="583" y="489.2" font-size="11.1" font-weight="bold" fill="#333" text-anchor="end" textLength="34" lengthAdjust="spacingAndGlyphs" stroke="#333" stroke-width="0.3">180.00</text>
<text x="583" y="471.0" font-size="11.1" font-weight="bold" fill="#333" text-anchor="end" textLength="34" lengthAdjust="spacingAndGlyphs" stroke="#333" stroke-width="0.3">200.00</text>
<rect x="692" y="506.5" width="102" height="142.5" fill="#00c882" stroke="#000" stroke-width="2"/>
<rect x="783.6" y="504.3" width="10.399999999999977" height="144.7" fill="#c0ea12"/>
<rect x="794" y="504.3" width="90.89999999999998" height="144.7" fill="#ffff33"/>
<line x1="794" y1="504.3" x2="794" y2="649" stroke="#b4bc00" stroke-width="1.6"/>
<rect x="783.6" y="504.3" width="101.29999999999995" height="144.7" fill="none" stroke="#000" stroke-width="2"/>
<line x1="693.5" y1="630.8" x2="884" y2="630.8" stroke="#000" stroke-opacity="0.05" stroke-width="1.5"/>
<line x1="693.5" y1="612.6" x2="884" y2="612.6" stroke="#000" stroke-opacity="0.05" stroke-width="1.5"/>
<line x1="693.5" y1="594.4" x2="884" y2="594.4" stroke="#000" stroke-opacity="0.05" stroke-width="1.5"/>
<line x1="693.5" y1="576.2" x2="884" y2="576.2" stroke="#000" stroke-opacity="0.05" stroke-width="1.5"/>
<line x1="693.5" y1="558.0" x2="884" y2="558.0" stroke="#000" stroke-opacity="0.05" stroke-width="1.5"/>
<line x1="693.5" y1="539.8" x2="884" y2="539.8" stroke="#000" stroke-opacity="0.05" stroke-width="1.5"/>
<line x1="693.5" y1="521.6" x2="884" y2="521.6" stroke="#000" stroke-opacity="0.05" stroke-width="1.5"/>
<line x1="743" y1="491.3" x2="743" y2="520.6" stroke="#111" stroke-width="2"/>
<line x1="740" y1="491.3" x2="746" y2="491.3" stroke="#111" stroke-width="2"/>
<line x1="740" y1="520.6" x2="746" y2="520.6" stroke="#111" stroke-width="2"/>
<line x1="834" y1="489.3" x2="834" y2="518.1" stroke="#111" stroke-width="2"/>
<line x1="831" y1="489.3" x2="837" y2="489.3" stroke="#111" stroke-width="2"/>
<line x1="831" y1="518.1" x2="837" y2="518.1" stroke="#111" stroke-width="2"/>
<text x="0" y="0" font-size="19" font-weight="bold" fill="#000" text-anchor="start" textLength="26.4" lengthAdjust="spacingAndGlyphs" transform="translate(543,572) rotate(-90)">mg</text>
<text x="719.3" y="662.5" font-size="15" fill="#222" textLength="46.60000000000002" lengthAdjust="spacingAndGlyphs">(<tspan font-style="italic">n</tspan> = 8)</text>
<text x="802" y="662.5" font-size="15" fill="#222" textLength="55.299999999999955" lengthAdjust="spacingAndGlyphs">(<tspan font-style="italic">n</tspan> = 19)</text>
<text x="762.7" y="682.6" font-size="18" font-weight="bold" fill="#000" text-anchor="start" textLength="48.9" lengthAdjust="spacingAndGlyphs">4 wpi</text>
<rect x="585" y="693" width="9.2" height="9.2" fill="#00c882" stroke="#111" stroke-width="1.8"/>
<text x="606" y="701.6" font-size="16" font-weight="bold" fill="#111" text-anchor="start" textLength="103.2" lengthAdjust="spacingAndGlyphs">twist1a+/kras</text>
<rect x="757.8" y="694.2" width="7.2" height="8" fill="#ffff33" stroke="#111" stroke-width="1.8"/>
<text x="778" y="701.6" font-size="16" font-weight="bold" fill="#111" text-anchor="start" textLength="146.1" lengthAdjust="spacingAndGlyphs">twist1a+/kras+/LPS</text>
<text x="251.5" y="779.9" font-size="21" font-weight="bold" fill="#000" text-anchor="start" textLength="82.3" lengthAdjust="spacingAndGlyphs">Survival</text>
<line x1="75.9" y1="809.0" x2="75.9" y2="1053.8" stroke="#000" stroke-width="2.7"/>
<line x1="74.60000000000001" y1="1052.5" x2="479.79999999999995" y2="1052.5" stroke="#000" stroke-width="2.7"/>
<line x1="70.8" y1="1052.5" x2="75.9" y2="1052.5" stroke="#000" stroke-width="2.2"/>
<text x="68.4" y="1057.8" font-size="14.5" font-weight="bold" fill="#000" text-anchor="end" textLength="8" lengthAdjust="spacingAndGlyphs">0</text>
<line x1="70.8" y1="1003.9" x2="75.9" y2="1003.9" stroke="#000" stroke-width="2.2"/>
<text x="68.4" y="1009.2" font-size="14.5" font-weight="bold" fill="#000" text-anchor="end" textLength="16" lengthAdjust="spacingAndGlyphs">20</text>
<line x1="70.8" y1="955.3" x2="75.9" y2="955.3" stroke="#000" stroke-width="2.2"/>
<text x="68.4" y="960.6" font-size="14.5" font-weight="bold" fill="#000" text-anchor="end" textLength="16" lengthAdjust="spacingAndGlyphs">40</text>
<line x1="70.8" y1="906.7" x2="75.9" y2="906.7" stroke="#000" stroke-width="2.2"/>
<text x="68.4" y="912.0" font-size="14.5" font-weight="bold" fill="#000" text-anchor="end" textLength="16" lengthAdjust="spacingAndGlyphs">60</text>
<line x1="70.8" y1="858.1" x2="75.9" y2="858.1" stroke="#000" stroke-width="2.2"/>
<text x="68.4" y="863.4" font-size="14.5" font-weight="bold" fill="#000" text-anchor="end" textLength="16" lengthAdjust="spacingAndGlyphs">80</text>
<line x1="70.8" y1="809.5" x2="75.9" y2="809.5" stroke="#000" stroke-width="2.2"/>
<text x="68.4" y="814.8" font-size="14.5" font-weight="bold" fill="#000" text-anchor="end" textLength="24" lengthAdjust="spacingAndGlyphs">100</text>
<line x1="75.9" y1="1052.5" x2="75.9" y2="1057.7" stroke="#000" stroke-width="2.2"/>
<text x="75.9" y="1074.2" font-size="14.5" font-weight="bold" fill="#000" text-anchor="middle" textLength="8" lengthAdjust="spacingAndGlyphs">0</text>
<line x1="143.1" y1="1052.5" x2="143.1" y2="1057.7" stroke="#000" stroke-width="2.2"/>
<text x="143.1" y="1074.2" font-size="14.5" font-weight="bold" fill="#000" text-anchor="middle" textLength="8" lengthAdjust="spacingAndGlyphs">5</text>
<line x1="210.2" y1="1052.5" x2="210.2" y2="1057.7" stroke="#000" stroke-width="2.2"/>
<text x="210.2" y="1074.2" font-size="14.5" font-weight="bold" fill="#000" text-anchor="middle" textLength="16" lengthAdjust="spacingAndGlyphs">10</text>
<line x1="277.4" y1="1052.5" x2="277.4" y2="1057.7" stroke="#000" stroke-width="2.2"/>
<text x="277.4" y="1074.2" font-size="14.5" font-weight="bold" fill="#000" text-anchor="middle" textLength="16" lengthAdjust="spacingAndGlyphs">15</text>
<line x1="344.5" y1="1052.5" x2="344.5" y2="1057.7" stroke="#000" stroke-width="2.2"/>
<text x="344.5" y="1074.2" font-size="14.5" font-weight="bold" fill="#000" text-anchor="middle" textLength="16" lengthAdjust="spacingAndGlyphs">20</text>
<line x1="411.6" y1="1052.5" x2="411.6" y2="1057.7" stroke="#000" stroke-width="2.2"/>
<text x="411.6" y="1074.2" font-size="14.5" font-weight="bold" fill="#000" text-anchor="middle" textLength="16" lengthAdjust="spacingAndGlyphs">25</text>
<line x1="478.8" y1="1052.5" x2="478.8" y2="1057.7" stroke="#000" stroke-width="2.2"/>
<text x="478.8" y="1074.2" font-size="14.5" font-weight="bold" fill="#000" text-anchor="middle" textLength="16" lengthAdjust="spacingAndGlyphs">30</text>
<text x="0" y="0" font-size="20" font-weight="bold" fill="#000" text-anchor="start" textLength="146" lengthAdjust="spacingAndGlyphs" transform="translate(51,1003.4) rotate(-90)">Percent survival</text>
<text x="193.7" y="1113" font-size="20" font-weight="bold" fill="#000" text-anchor="start" textLength="165.8" lengthAdjust="spacingAndGlyphs">Days of induction</text>
<path d="M75.9,809.5 H116.2 V817.3 H183.3 V833.8 H210.2 V841.6 H237.1 V896.0 H250.5 V903.8 H304.2 V912.0 H344.5 V919.3 H357.9 V943.4 H371.4 V950.9 H384.8 V966.7 H398.2 V982.5 H451.9 V989.8" fill="none" stroke="#4cd35e" stroke-width="2" stroke-dasharray="1.6,2.4"/>
<path d="M75.9,809.5 H116.2 V816.8 H156.5 V839.1 H169.9 V853.7 H183.3 V868.3 H210.2 V875.6 H237.1 V890.4 H263.9 V897.7 H277.4 V905.5 H371.4 V913.3 H451.9" fill="none" stroke="#d8213a" stroke-width="2.3" stroke-dasharray="7,4"/>
<path d="M114.4,818.3 L116.2,814.8 L118.0,818.3 Z" fill="#000"/>
<path d="M154.7,840.6 L156.5,837.1 L158.3,840.6 Z" fill="#000"/>
<path d="M168.1,855.2 L169.9,851.7 L171.7,855.2 Z" fill="#000"/>
<path d="M181.5,869.8 L183.3,866.3 L185.1,869.8 Z" fill="#000"/>
<path d="M208.4,877.1 L210.2,873.6 L212.0,877.1 Z" fill="#000"/>
<path d="M235.3,891.9 L237.1,888.4 L238.9,891.9 Z" fill="#000"/>
<path d="M262.1,899.2 L263.9,895.7 L265.7,899.2 Z" fill="#000"/>
<path d="M275.6,907.0 L277.4,903.5 L279.2,907.0 Z" fill="#000"/>
<path d="M369.6,914.8 L371.4,911.3 L373.2,914.8 Z" fill="#000"/>
<path d="M450.1,914.8 L451.9,911.3 L453.7,914.8 Z" fill="#000"/>
<path d="M114.4,818.8 L116.2,815.3 L118.0,818.8 Z" fill="#000"/>
<path d="M181.5,835.3 L183.3,831.8 L185.1,835.3 Z" fill="#000"/>
<path d="M208.4,843.1 L210.2,839.6 L212.0,843.1 Z" fill="#000"/>
<path d="M235.3,897.5 L237.1,894.0 L238.9,897.5 Z" fill="#000"/>
<path d="M248.7,905.3 L250.5,901.8 L252.3,905.3 Z" fill="#000"/>
<path d="M302.4,913.5 L304.2,910.0 L306.0,913.5 Z" fill="#000"/>
<path d="M342.7,920.8 L344.5,917.3 L346.3,920.8 Z" fill="#000"/>
<path d="M356.1,944.9 L357.9,941.4 L359.7,944.9 Z" fill="#000"/>
<path d="M369.6,952.4 L371.4,948.9 L373.2,952.4 Z" fill="#000"/>
<path d="M383.0,968.2 L384.8,964.7 L386.6,968.2 Z" fill="#000"/>
<path d="M396.4,984.0 L398.2,980.5 L400.0,984.0 Z" fill="#000"/>
<path d="M450.1,991.3 L451.9,987.8 L453.7,991.3 Z" fill="#000"/>
<path d="M458.6,916 H467.7 V981.8 H458.6" fill="none" stroke="#000" stroke-width="2"/>
<text x="0" y="0" font-size="14" font-weight="bold" fill="#000" text-anchor="start" textLength="58" lengthAdjust="spacingAndGlyphs" transform="translate(480.5,920.5) rotate(90)">p= 0.0763</text>
<line x1="91.7" y1="998.2" x2="112.8" y2="998.2" stroke="#4cd35e" stroke-width="2" stroke-dasharray="1.6,2.4"/>
<path d="M100.2,999.7 L102.0,996.2 L103.8,999.7 Z" fill="#000"/>
<line x1="92.4" y1="1028.4" x2="114" y2="1028.4" stroke="#d8213a" stroke-width="2.3" stroke-dasharray="5,3"/>
<path d="M101.2,1029.9 L103.0,1026.4 L104.8,1029.9 Z" fill="#000"/>
<text x="124" y="1005.5" font-size="17.3" font-weight="normal" fill="#111" text-anchor="start" textLength="110" lengthAdjust="spacingAndGlyphs">twist1a+/kras+</text>
<text x="242.8" y="1005.5" font-size="17.3" fill="#111" textLength="67.4" lengthAdjust="spacingAndGlyphs">(<tspan font-style="italic">n</tspan> = 30)</text>
<text x="124" y="1033.4" font-size="17.3" font-weight="normal" fill="#111" text-anchor="start" textLength="149.5" lengthAdjust="spacingAndGlyphs">twist1a+/kras+/LPS</text>
<text x="281.8" y="1033.4" font-size="17.3" fill="#111" textLength="66.5" lengthAdjust="spacingAndGlyphs">(<tspan font-style="italic">n</tspan> = 34)</text>
<rect x="517.8" y="781.3" width="466.8" height="337.7" fill="#fff" stroke="#e0e0e0" stroke-width="1.3"/>
<line x1="607" y1="1021.5" x2="931.7" y2="1021.5" stroke="#dcdcdc" stroke-width="1.1"/>
<text x="594.4" y="1025.8" font-size="12" font-weight="bold" fill="#222" text-anchor="end" textLength="17" lengthAdjust="spacingAndGlyphs" stroke="#222" stroke-width="0.3">0%</text>
<line x1="607" y1="1000.2" x2="931.7" y2="1000.2" stroke="#dcdcdc" stroke-width="1.1"/>
<text x="594.4" y="1004.5" font-size="12" font-weight="bold" fill="#222" text-anchor="end" textLength="22.6" lengthAdjust="spacingAndGlyphs" stroke="#222" stroke-width="0.3">10%</text>
<line x1="607" y1="979.0" x2="931.7" y2="979.0" stroke="#dcdcdc" stroke-width="1.1"/>
<text x="594.4" y="983.3" font-size="12" font-weight="bold" fill="#222" text-anchor="end" textLength="22.6" lengthAdjust="spacingAndGlyphs" stroke="#222" stroke-width="0.3">20%</text>
<line x1="607" y1="957.7" x2="931.7" y2="957.7" stroke="#dcdcdc" stroke-width="1.1"/>
<text x="594.4" y="962.0" font-size="12" font-weight="bold" fill="#222" text-anchor="end" textLength="22.6" lengthAdjust="spacingAndGlyphs" stroke="#222" stroke-width="0.3">30%</text>
<line x1="607" y1="936.4" x2="931.7" y2="936.4" stroke="#dcdcdc" stroke-width="1.1"/>
<text x="594.4" y="940.7" font-size="12" font-weight="bold" fill="#222" text-anchor="end" textLength="22.6" lengthAdjust="spacingAndGlyphs" stroke="#222" stroke-width="0.3">40%</text>
<line x1="607" y1="915.1" x2="931.7" y2="915.1" stroke="#dcdcdc" stroke-width="1.1"/>
<text x="594.4" y="919.4" font-size="12" font-weight="bold" fill="#222" text-anchor="end" textLength="22.6" lengthAdjust="spacingAndGlyphs" stroke="#222" stroke-width="0.3">50%</text>
<line x1="607" y1="893.9" x2="931.7" y2="893.9" stroke="#dcdcdc" stroke-width="1.1"/>
<text x="594.4" y="898.2" font-size="12" font-weight="bold" fill="#222" text-anchor="end" textLength="22.6" lengthAdjust="spacingAndGlyphs" stroke="#222" stroke-width="0.3">60%</text>
<line x1="607" y1="872.6" x2="931.7" y2="872.6" stroke="#dcdcdc" stroke-width="1.1"/>
<text x="594.4" y="876.9" font-size="12" font-weight="bold" fill="#222" text-anchor="end" textLength="22.6" lengthAdjust="spacingAndGlyphs" stroke="#222" stroke-width="0.3">70%</text>
<line x1="607" y1="851.3" x2="931.7" y2="851.3" stroke="#dcdcdc" stroke-width="1.1"/>
<text x="594.4" y="855.6" font-size="12" font-weight="bold" fill="#222" text-anchor="end" textLength="22.6" lengthAdjust="spacingAndGlyphs" stroke="#222" stroke-width="0.3">80%</text>
<line x1="607" y1="830.1" x2="931.7" y2="830.1" stroke="#dcdcdc" stroke-width="1.1"/>
<text x="594.4" y="834.4" font-size="12" font-weight="bold" fill="#222" text-anchor="end" textLength="22.6" lengthAdjust="spacingAndGlyphs" stroke="#222" stroke-width="0.3">90%</text>
<line x1="607" y1="808.8" x2="931.7" y2="808.8" stroke="#dcdcdc" stroke-width="1.1"/>
<text x="594.4" y="813.1" font-size="12" font-weight="bold" fill="#222" text-anchor="end" textLength="27.7" lengthAdjust="spacingAndGlyphs" stroke="#222" stroke-width="0.3">100%</text>
<rect x="617" y="997.9" width="61.89999999999998" height="23.6" fill="#ffc000" stroke="#111" stroke-width="1.2"/>
<rect x="617" y="950.7" width="61.89999999999998" height="47.2" fill="#7030a0" stroke="#111" stroke-width="1.2"/>
<rect x="617" y="856.0" width="61.89999999999998" height="94.7" fill="#00b050" stroke="#111" stroke-width="1.2"/>
<rect x="617" y="808.8" width="61.89999999999998" height="47.2" fill="#ff0000" stroke="#111" stroke-width="1.2"/>
<rect x="778.5" y="988.1" width="62.60000000000002" height="33.4" fill="#ffc000" stroke="#111" stroke-width="1.2"/>
<rect x="778.5" y="976.8" width="62.60000000000002" height="11.3" fill="#7030a0" stroke="#111" stroke-width="1.2"/>
<rect x="778.5" y="932.0" width="62.60000000000002" height="44.9" fill="#00b050" stroke="#111" stroke-width="1.2"/>
<rect x="778.5" y="808.8" width="62.60000000000002" height="123.2" fill="#ff0000" stroke="#111" stroke-width="1.2"/>
<text x="627.3" y="837.8" font-size="13" font-weight="bold" fill="#fff" text-anchor="start" textLength="39.40000000000009" lengthAdjust="spacingAndGlyphs">22.2 %</text>
<text x="627.1" y="908.3" font-size="13" font-weight="bold" fill="#eafff6" text-anchor="start" textLength="39.5" lengthAdjust="spacingAndGlyphs">44.5 %</text>
<text x="627.3" y="979.7" font-size="13" font-weight="bold" fill="#fff" text-anchor="start" textLength="39.40000000000009" lengthAdjust="spacingAndGlyphs">22.2 %</text>
<text x="627.3" y="1014.9" font-size="13" font-weight="bold" fill="#fff8e0" text-anchor="start" textLength="39.40000000000009" lengthAdjust="spacingAndGlyphs">11.1 %</text>
<text x="789.5" y="875" font-size="13" font-weight="bold" fill="#fff" text-anchor="start" textLength="39.10000000000002" lengthAdjust="spacingAndGlyphs">57.9 %</text>
<text x="789.5" y="959.8" font-size="13" font-weight="bold" fill="#eafff6" text-anchor="start" textLength="38.60000000000002" lengthAdjust="spacingAndGlyphs">21.1 %</text>
<text x="793" y="987.6" font-size="13" font-weight="bold" fill="#fff" text-anchor="start" textLength="32.10000000000002" lengthAdjust="spacingAndGlyphs">5.3 %</text>
<text x="791.7" y="1009" font-size="13" font-weight="bold" fill="#fff8e0" text-anchor="start" textLength="35.19999999999993" lengthAdjust="spacingAndGlyphs">15.7 %</text>
<path d="M650.8,808.6 V800.3 H815.3 V808.6" fill="none" stroke="#000" stroke-width="2"/>
<path d="M721.00,788.80 L721.00,797.00 M717.45,790.85 L724.55,794.95 M717.45,794.95 L724.55,790.85 " stroke="#000" stroke-width="1.9" fill="none"/>
<circle cx="721" cy="792.9" r="1.6" fill="#000"/>
<path d="M732.00,788.80 L732.00,797.00 M728.45,790.85 L735.55,794.95 M728.45,794.95 L735.55,790.85 " stroke="#000" stroke-width="1.9" fill="none"/>
<circle cx="732" cy="792.9" r="1.6" fill="#000"/>
<text x="0" y="0" font-size="17" font-weight="bold" fill="#000" text-anchor="start" textLength="192" lengthAdjust="spacingAndGlyphs" transform="translate(554.2,993.5) rotate(-90)">Percentage of histology</text>
<text x="633.1" y="1044.6" font-size="12.5" font-weight="bold" fill="#111" text-anchor="start" textLength="29.3" lengthAdjust="spacingAndGlyphs">4wpi</text>
<text x="794.9" y="1044.6" font-size="12.5" font-weight="bold" fill="#111" text-anchor="start" textLength="29.5" lengthAdjust="spacingAndGlyphs">4wpi</text>
<text x="585.9" y="1061.6" font-size="12.5" font-weight="bold" fill="#111" text-anchor="start" textLength="88.8" lengthAdjust="spacingAndGlyphs">twist1a+/kras+</text>
<text x="679" y="1061.6" font-size="12.5" font-weight="bold" fill="#111" textLength="37.9" lengthAdjust="spacingAndGlyphs">(<tspan font-style="italic">n</tspan> = 9)</text>
<text x="731.2" y="1061.6" font-size="12.5" font-weight="bold" fill="#111" text-anchor="start" textLength="114.6" lengthAdjust="spacingAndGlyphs">twist1a+/kras+/LPS</text>
<text x="854.1" y="1059.5" font-size="12.5" font-weight="bold" fill="#111" textLength="43.2" lengthAdjust="spacingAndGlyphs">(<tspan font-style="italic">n</tspan> = 19)</text>
<rect x="562.3000000000001" y="1091.4" width="8.6" height="8.4" fill="#bfbfbf" stroke="#222" stroke-width="1.2"/>
<text x="573.3" y="1100.1" font-size="13" font-weight="bold" fill="#222" text-anchor="start" textLength="43.90000000000009" lengthAdjust="spacingAndGlyphs">Normal</text>
<rect x="646.3000000000001" y="1091.4" width="8.6" height="8.4" fill="#ffc000" stroke="#222" stroke-width="1.2"/>
<text x="657" y="1100.1" font-size="13" font-weight="bold" fill="#222" text-anchor="start" textLength="17.700000000000045" lengthAdjust="spacingAndGlyphs">HP</text>
<rect x="701.8000000000001" y="1091.4" width="8.6" height="8.4" fill="#7030a0" stroke="#222" stroke-width="1.2"/>
<text x="713.9" y="1100.1" font-size="13" font-weight="bold" fill="#222" text-anchor="start" textLength="25.600000000000023" lengthAdjust="spacingAndGlyphs">HCA</text>
<rect x="768.3000000000001" y="1091.4" width="8.6" height="8.4" fill="#00b050" stroke="#222" stroke-width="1.2"/>
<text x="779.3" y="1100.1" font-size="13" font-weight="bold" fill="#222" text-anchor="start" textLength="24.300000000000068" lengthAdjust="spacingAndGlyphs">HCC</text>
<rect x="831.5" y="1091.4" width="8.6" height="8.4" fill="#ff0000" stroke="#222" stroke-width="1.2"/>
<text x="843.8" y="1100.1" font-size="13" font-weight="bold" fill="#222" text-anchor="start" textLength="92.30000000000007" lengthAdjust="spacingAndGlyphs">Metastatic HCC</text>
</svg>
</body></html>
